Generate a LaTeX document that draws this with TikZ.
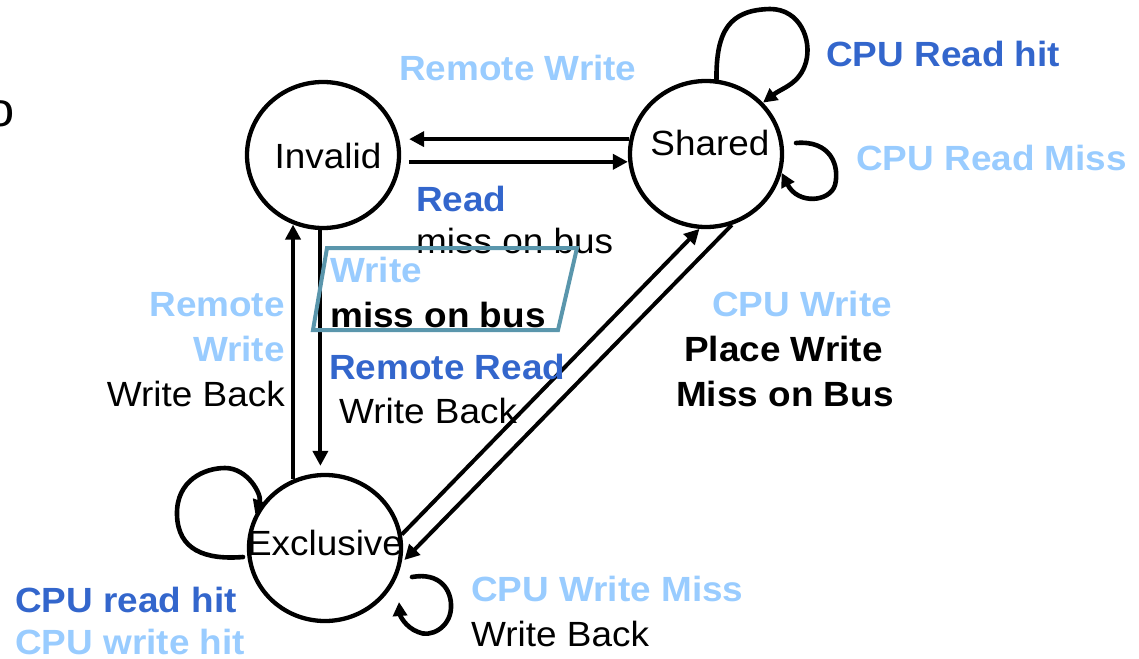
\documentclass[tikz,border=0pt]{standalone}
\usepackage{fontspec}
\setmainfont[FakeStretch=1.055]{Liberation Sans}
\usetikzlibrary{arrows.meta,shapes.geometric}
\definecolor{cpublue}{HTML}{3366CC}
\definecolor{busblue}{HTML}{99CCFF}
\definecolor{framecol}{HTML}{5A96AC}
\begin{document}
\begin{tikzpicture}[x=1pt,y=-1pt,
  state/.style={draw, ellipse, line width=4.3pt, minimum width=152pt, minimum height=146pt, inner sep=0pt},
  t/.style={inner sep=0pt, anchor=base west, font=\fontsize{35}{42}\selectfont},
  tb/.style={t, font=\fontsize{35}{42}\selectfont\bfseries},
  cpu/.style={tb, text=cpublue},
  bus/.style={tb, text=busblue},
  arr/.style={line width=4pt, -{Triangle[length=15pt,width=15pt]}},
  lp/.style={line width=4.6pt, line cap=round, -{Triangle[length=14pt,width=14pt]}},
  frame/.style={draw=framecol, line width=4pt}]
\useasboundingbox (0,0) rectangle (1139,658);

% states
\node[state] (I) at (323,155) {};
\node[state] (S) at (706,154) {};
\node[state] (E) at (325,548) {};
\node[t, anchor=base] (Itx) at (328,168) {Invalid};
\node[t, anchor=base] (Stx) at (710,155) {Shared};
\node[t, anchor=base] (Etx) at (325,555) {Exclusive};

% transitions between states
\draw[arr, shorten >=8pt] (S.169) -- (I.east |- S.169);
\draw[arr, shorten <=8pt] (I.-5) -- (I.-5 -| S.west);
\draw[arr, shorten >=7pt] (I.268) -- (I.268 |- E.north);
\draw[arr] (E.115) -- (I.247 -| E.115);
\draw[arr] (E.10) -- (S.265);
\draw[arr, shorten >=4pt] (S.290) -- (E.-11);

% self loops
\coordinate (sr) at (796,143);
\coordinate (el) at (243,557);
\coordinate (er0) at (412,577);
\coordinate (er1) at (399,602);
\draw[lp] (S.82) .. controls (716,30) and (730,10) .. (770,9)
  .. controls (800,9) and (812,40) .. (806,62)
  .. controls (800,84) and (782,88) .. (S.42);
\draw[lp] (sr) .. controls (830,140) and (840,165) .. (835,185)
  .. controls (830,202) and (798,205) .. (S.-14);
\draw[lp] (el) .. controls (205,560) and (178,550) .. (177,515)
  .. controls (176,480) and (205,468) .. (225,468)
  .. controls (248,468) and (262,495) .. (E.154);
\draw[lp] (er0) .. controls (440,572) and (452,590) .. (451,608)
  .. controls (450,628) and (430,638) .. (418,632)
  .. controls (405,627) and (400,615) .. (er1);

% labels
\node[t, font=\fontsize{48}{56}\selectfont] (cut) at (-14,127) {o};
\node[bus] (rw) at (399,81) {Remote Write};
\node[cpu] (crh) at (826,67) {CPU Read hit};
\node[bus] (crm) at (856,170) {CPU Read Miss};
\node[cpu] (rd) at (416,211) {Read};
\node[t] (rdb) at (416,253) {miss on bus};
\node[bus] (wr) at (330,282) {Write};
\node[tb] (wrb) at (330,327) {miss on bus};
\node[cpu] (rr) at (329,379) {Remote Read};
\node[t] (rrb) at (339,423) {Write Back};
\node[bus, anchor=base east] (rw1) at (285,316) {Remote};
\node[bus, anchor=base east] (rw2) at (285,361) {Write};
\node[t, anchor=base east] (rw3) at (285,406) {Write Back};
\node[bus] (cw) at (712,316) {CPU Write};
\node[tb] (pw) at (684,361) {Place Write};
\node[tb] (mb) at (676,406) {Miss on Bus};
\node[cpu] (crd) at (15,612) {CPU read hit};
\node[bus] (cwh) at (15,654) {CPU write hit};
\node[bus] (cwm) at (471,601) {CPU Write Miss};
\node[t] (cwb) at (471,646) {Write Back};

% highlighted write-miss label
\draw[frame] (327,248) -- (577,248) -- (558,330) -- (313,330) -- cycle;
\end{tikzpicture}
\end{document}
